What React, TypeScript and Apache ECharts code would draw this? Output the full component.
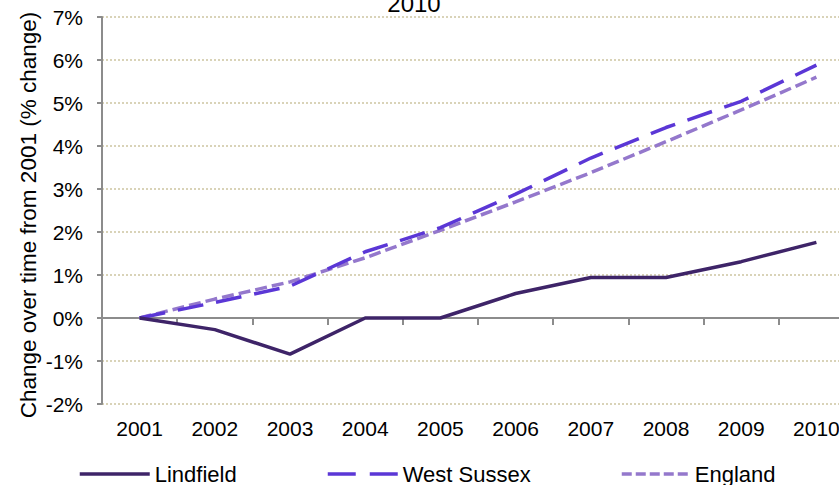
import React, { useEffect, useRef } from "react";
import * as echarts from "echarts";

const years = ["2001", "2002", "2003", "2004", "2005", "2006", "2007", "2008", "2009", "2010"];
const lindfield = [0, -0.27, -0.84, 0, 0, 0.57, 0.94, 0.94, 1.31, 1.76];
const westSussex = [0, 0.36, 0.74, 1.54, 2.1, 2.88, 3.72, 4.43, 5.04, 5.88];
const england = [0, 0.44, 0.84, 1.4, 2.04, 2.7, 3.38, 4.1, 4.84, 5.6];
const yMin = -2;
const yMax = 7;
const yStep = 1;
const titleText = "2010";
const yAxisTitle = "Change over time from 2001 (% change)";

const FONT = "Liberation Sans, Arial, sans-serif";
const GRAY = "#8c8c8c";
const C_LIND = "#3e2468";
const C_WS = "#5b37d6";
const C_ENG = "#9478cc";

export default function App() {
  const ref = useRef<HTMLDivElement>(null);
  useEffect(() => {
    if (!ref.current) return;
    const chart = echarts.init(ref.current, undefined, { renderer: "svg" });
    const legendBase = {
      top: 458,
      itemHeight: 14,
      itemWidth: 70,
      itemGap: 8,
      textStyle: { fontFamily: FONT, fontSize: 22, color: "#000" },
      itemStyle: { opacity: 0 },
    };
    chart.setOption({
      animation: false,
      backgroundColor: "#fff",
      grid: { left: 102, top: 17, width: 752, height: 387, containLabel: false },
      graphic: [
        {
          type: "text",
          x: 414,
          y: 3,
          style: {
            text: titleText,
            fontFamily: FONT,
            fontSize: 24,
            fill: "#000",
            textAlign: "center",
            textVerticalAlign: "middle",
          },
        },
        {
          type: "text",
          x: 28,
          y: 215,
          rotation: Math.PI / 2,
          style: {
            text: yAxisTitle,
            fontFamily: FONT,
            fontSize: 22.5,
            fill: "#000",
            textAlign: "center",
            textVerticalAlign: "middle",
          },
        },
      ],
      legend: [
        {
          ...legendBase,
          left: 73,
          data: ["Lindfield"],
          lineStyle: { color: C_LIND, width: 3.5, type: "solid" },
        },
        {
          ...legendBase,
          left: 321,
          data: ["West Sussex"],
          lineStyle: { color: C_WS, width: 3.5, type: [28, 14] },
        },
        {
          ...legendBase,
          left: 615,
          itemWidth: 68,
          data: ["England"],
          lineStyle: { color: C_ENG, width: 3.5, type: [10, 4] },
        },
      ],
      xAxis: [
        {
          type: "category",
          data: years,
          boundaryGap: true,
          position: "bottom",
          axisLine: { show: false, onZero: false },
          axisTick: { show: false },
          axisLabel: { fontFamily: FONT, fontSize: 21, color: "#000", margin: 14 },
          splitLine: { show: false },
        },
        {
          type: "category",
          data: years,
          boundaryGap: true,
          position: "bottom",
          axisLine: { show: true, onZero: true, lineStyle: { color: GRAY, width: 2 } },
          axisTick: { show: true, length: 7, lineStyle: { color: GRAY, width: 2 } },
          axisLabel: { show: false },
          splitLine: { show: false },
        },
      ],
      yAxis: {
        type: "value",
        min: yMin,
        max: yMax,
        interval: yStep,
        axisLine: { show: true, lineStyle: { color: GRAY, width: 2 } },
        axisTick: { show: true, length: 5, lineStyle: { color: GRAY, width: 2 } },
        axisLabel: {
          fontFamily: FONT,
          fontSize: 21,
          color: "#000",
          margin: 19,
          formatter: "{value}%",
        },
        splitLine: {
          show: true,
          lineStyle: { color: "#d9d3b8", width: 2, type: [2, 2] },
        },
      },
      series: [
        {
          name: "Lindfield",
          type: "line",
          xAxisIndex: 0,
          data: lindfield,
          symbol: "none",
          lineStyle: { color: C_LIND, width: 3.5 },
          itemStyle: { color: C_LIND },
          z: 5,
        },
        {
          name: "West Sussex",
          type: "line",
          xAxisIndex: 0,
          data: westSussex,
          symbol: "none",
          lineStyle: { color: C_WS, width: 3.5, type: [26, 13] },
          itemStyle: { color: C_WS },
          z: 4,
        },
        {
          name: "England",
          type: "line",
          xAxisIndex: 0,
          data: england,
          symbol: "none",
          lineStyle: { color: C_ENG, width: 3.5, type: [12, 5] },
          itemStyle: { color: C_ENG },
          z: 3,
        },
      ],
    });
    return () => chart.dispose();
  }, []);
  return (
    <div
      ref={ref}
      style={{ position: "fixed", left: 0, top: 0, width: 870, height: 485 }}
    />
  );
}
